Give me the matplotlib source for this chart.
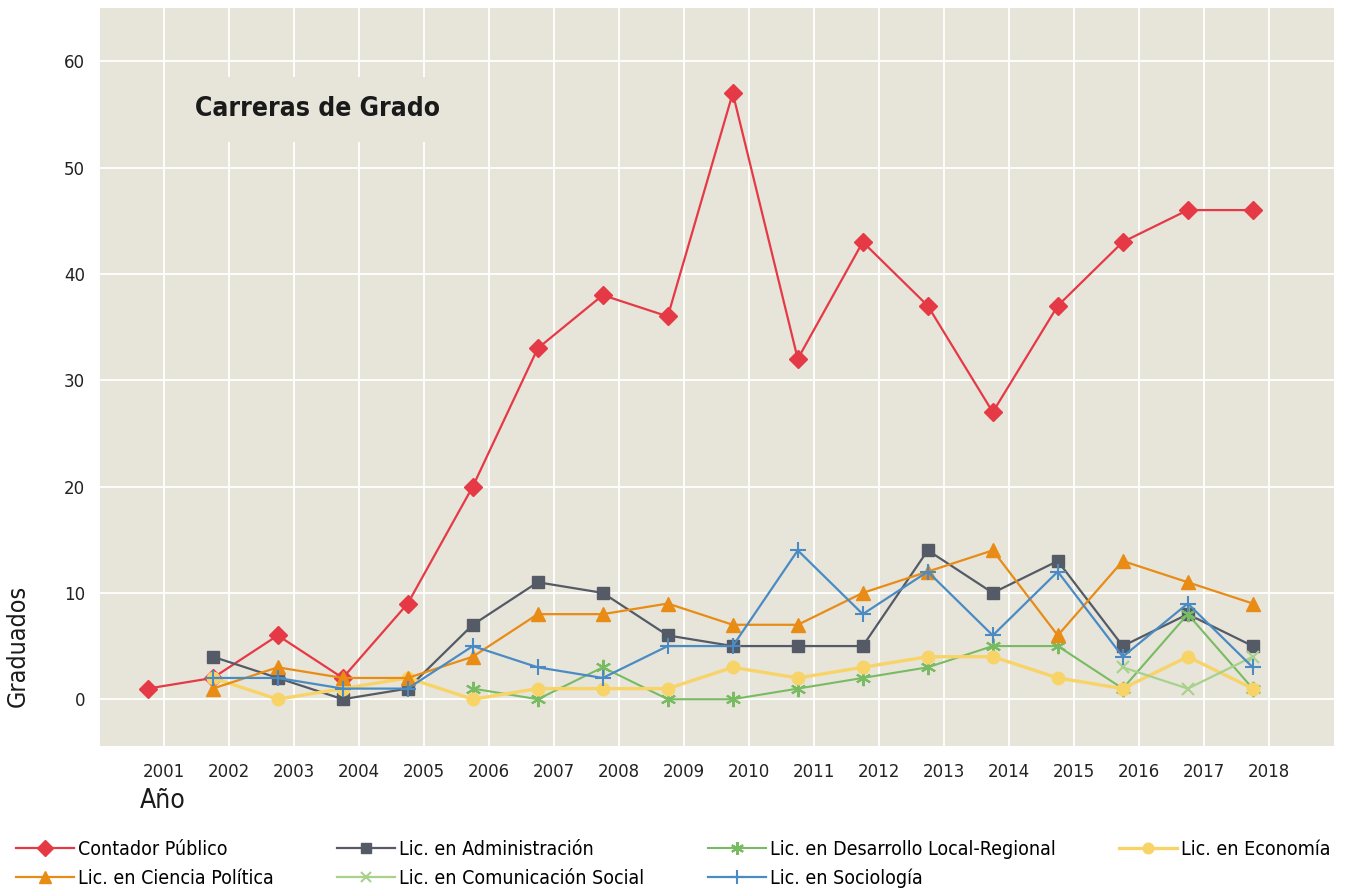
import matplotlib
matplotlib.use('Agg')
import matplotlib.pyplot as plt
from matplotlib import font_manager as fm
import numpy as np

# 年
years = list(range(2001, 2019))

# 各学科の卒業者数（None = データなし）
contador = [1, 2, 6, 2, 9, 20, 33, 38, 36, 57, 32, 43, 37, 27, 37, 43, 46, 46]
administracion = [None, 4, 2, 0, 1, 7, 11, 10, 6, 5, 5, 5, 14, 10, 13, 5, 8, 5]
desarrollo = [None, None, None, None, None, 1, 0, 3, 0, 0, 1, 2, 3, 5, 5, 1, 8, 1]
economia = [None, 2, 0, 1, 2, 0, 1, 1, 1, 3, 2, 3, 4, 4, 2, 1, 4, 1]
ciencia_politica = [None, 1, 3, 2, 2, 4, 8, 8, 9, 7, 7, 10, 12, 14, 6, 13, 11, 9]
comunicacion = [None] * 15 + [3, 1, 4]
sociologia = [None, 2, 2, 1, 1, 5, 3, 2, 5, 5, 14, 8, 12, 6, 12, 4, 9, 3]

BG = '#e7e4da'


def pick_condensed():
    """細めのフォントを探す"""
    entries = [(f.name, f.stretch) for f in fm.fontManager.ttflist]
    names = {n for n, _ in entries}
    if 'Liberation Sans Narrow' in names:
        return ['Liberation Sans Narrow', 'DejaVu Sans'], 'normal'
    if ('DejaVu Sans', 'condensed') in entries or 'DejaVu Sans Condensed' in names:
        if 'DejaVu Sans Condensed' in names:
            return ['DejaVu Sans Condensed', 'DejaVu Sans'], 'normal'
        return ['DejaVu Sans'], 'condensed'
    return ['Roboto', 'DejaVu Sans'], 'normal'


def to_arr(vals):
    return np.array([np.nan if v is None else v for v in vals], dtype=float)


def main():
    cond, stretch = pick_condensed()

    fig = plt.figure(figsize=(13.49, 8.93), dpi=100)
    ax = fig.add_axes([0.0734, 0.1646, 0.9155, 0.8264])
    ax.set_facecolor(BG)

    x = np.array(years) - 0.25

    series = [
        # label, data, color, marker, ms, lw
        ('Contador Público', contador, '#e63946', 'D', 9, 1.6),
        ('Lic. en Administración', administracion, '#545b66', 's', 9, 1.6),
        ('Lic. en Desarrollo Local-Regional', desarrollo, '#78bb62', (6, 2, 0), 11, 1.5),
        ('Lic. en Economía', economia, '#f8d468', 'o', 9, 2.4),
        ('Lic. en Ciencia Política', ciencia_politica, '#e88c16', '^', 10, 1.6),
        ('Lic. en Comunicación Social', comunicacion, '#a8d18c', 'x', 9, 1.6),
        ('Lic. en Sociología', sociologia, '#4a8bc4', '+', 12, 1.6),
    ]

    handles = {}
    for label, data, color, marker, ms, lw in series:
        mew = 1.5 if marker in ('x', '+', (6, 2, 0)) else 1
        h, = ax.plot(x, to_arr(data), color=color, marker=marker, markersize=ms,
                     linewidth=lw, markeredgewidth=mew, label=label)
        handles[label] = h

    # 軸設定
    ax.set_xlim(2000.0, 2019.0)
    ax.set_ylim(-4.4, 65)
    ax.set_xticks([2000] + years)
    ax.set_xticklabels([''] + [str(y) for y in years])
    ax.set_yticks(range(0, 61, 10))
    ax.grid(True, color='white', linewidth=1.3)
    ax.set_axisbelow(True)
    for s in ax.spines.values():
        s.set_visible(False)
    ax.tick_params(length=0, labelsize=12, colors='#222222')
    ax.tick_params(axis='x', pad=12)
    ax.tick_params(axis='y', pad=10)

    # タイトル
    ax.text(2001.48, 55.5, 'Carreras de Grado', fontsize=19, fontweight='semibold',
            family=cond, fontstretch=stretch, color='#1a1a1a',
            va='center', ha='left',
            bbox=dict(facecolor=BG, edgecolor='none', pad=14))

    # 軸ラベル
    fig.text(0.0135, 0.277, 'Graduados', rotation=90, fontsize=18,
             family=cond, fontstretch=stretch,
             va='center', ha='center', color='#1a1a1a')
    fig.text(0.104, 0.103, 'Año', fontsize=19, family=cond, fontstretch=stretch,
             va='center', ha='left', color='#1a1a1a')

    # 凡例（列優先なので並べ替え）
    order = ['Contador Público', 'Lic. en Ciencia Política',
             'Lic. en Administración', 'Lic. en Comunicación Social',
             'Lic. en Desarrollo Local-Regional', 'Lic. en Sociología',
             'Lic. en Economía']
    fig.legend([handles[k] for k in order], order, ncol=4,
               loc='lower left', bbox_to_anchor=(0.0, -0.012, 0.998, 0.1),
               mode='expand', frameon=False, handlelength=3.0,
               handletextpad=0.2, columnspacing=2.5, labelspacing=0.5,
               borderpad=0.3, markerscale=0.85,
               prop={'family': cond, 'stretch': stretch, 'size': 14})

    plt.savefig('out.png', dpi=100)
    plt.close()


if __name__ == '__main__':
    main()
